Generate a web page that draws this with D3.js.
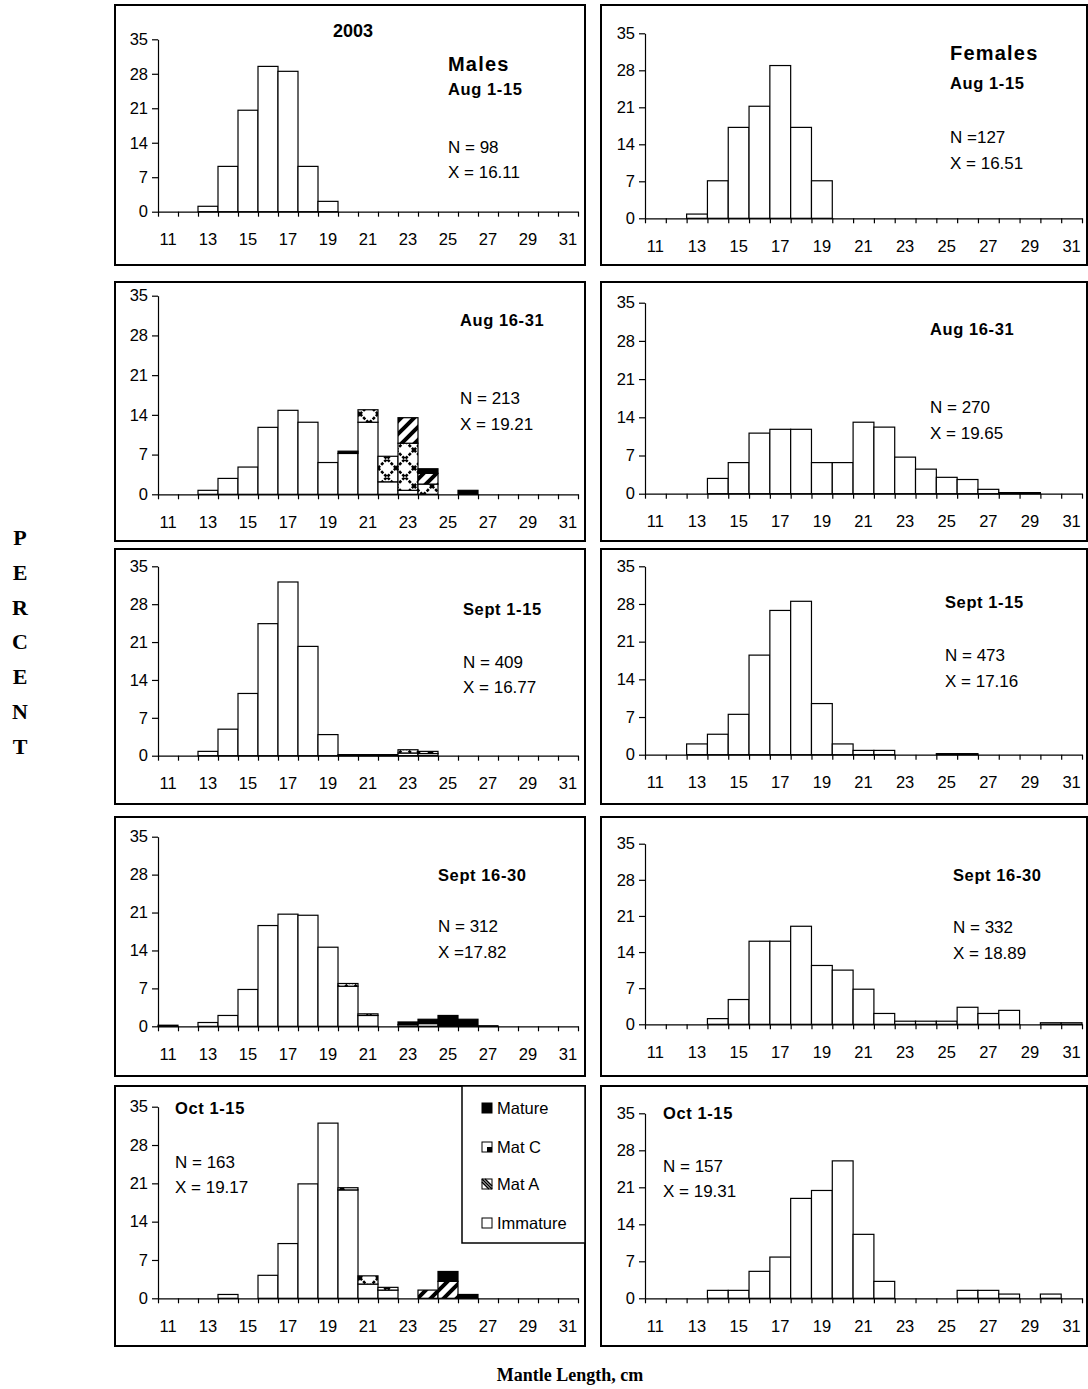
<!DOCTYPE html>
<html><head><meta charset="utf-8">
<script src="https://cdn.jsdelivr.net/npm/d3@7/dist/d3.min.js"></script>
<style>
body{margin:0;background:#fff}
text{font-family:Arial,"Liberation Sans",sans-serif;fill:#000}
</style>
</head><body>
<svg id="chart" width="1088" height="1389"></svg>
<script>
// ---------------- DATA ----------------
const lengths = [11,12,13,14,15,16,17,18,19,20,21,22,23,24,25,26,27,28,29,30,31];
const yTicks = [0,7,14,21,28,35];
const xTickLabels = [11,13,15,17,19,21,23,25,27,29,31];
const stageKeys = ["imm","matA","matC","mature"];
const stageNames = ["Immature","Mat A","Mat C","Mature"];

// Males (percent), stacked by maturity stage
const mAug1Imm    = [0,0,1.1,9.2,20.6,29.5,28.5,9.2,2.1,0,0,0,0,0,0,0,0,0,0,0,0];
const mAug1MatA   = [0,0,0,0,0,0,0,0,0,0,0,0,0,0,0,0,0,0,0,0,0];
const mAug1MatC   = [0,0,0,0,0,0,0,0,0,0,0,0,0,0,0,0,0,0,0,0,0];
const mAug1Mature = [0,0,0,0,0,0,0,0,0,0,0,0,0,0,0,0,0,0,0,0,0];

const mAug16Imm    = [0,0,0.7,2.8,4.8,11.8,14.8,12.7,5.6,7.2,12.7,2.2,0.7,0,0,0,0,0,0,0,0];
const mAug16MatA   = [0,0,0,0,0,0,0,0,0,0,2.2,4.5,8.3,1.8,0,0,0,0,0,0,0];
const mAug16MatC   = [0,0,0,0,0,0,0,0,0,0,0,0,4.5,1.9,0,0,0,0,0,0,0];
const mAug16Mature = [0,0,0,0,0,0,0,0,0,0.4,0,0,0,0.8,0,0.7,0,0,0,0,0];

const mSep1Imm    = [0,0,0.8,4.9,11.5,24.4,32.1,20.2,3.9,0.2,0.2,0.2,0.5,0.4,0,0,0,0,0,0,0];
const mSep1MatA   = [0,0,0,0,0,0,0,0,0,0,0,0,0.6,0,0,0,0,0,0,0,0];
const mSep1MatC   = [0,0,0,0,0,0,0,0,0,0,0,0,0,0.4,0,0,0,0,0,0,0];
const mSep1Mature = [0,0,0,0,0,0,0,0,0,0,0,0,0,0,0,0,0,0,0,0,0];

const mSep16Imm    = [0.2,0,0.7,2.0,6.8,18.6,20.7,20.5,14.6,7.4,2.0,0,0.3,0.5,0,0,0,0,0,0,0];
const mSep16MatA   = [0,0,0,0,0,0,0,0,0,0.5,0.3,0,0,0,0,0,0,0,0,0,0];
const mSep16MatC   = [0,0,0,0,0,0,0,0,0,0,0,0,0,0,0,0,0,0,0,0,0];
const mSep16Mature = [0,0,0,0,0,0,0,0,0,0,0,0,0.5,0.8,2.0,1.3,0.1,0,0,0,0];

const mOct1Imm    = [0,0,0,0.7,0,4.2,10.0,20.9,32.0,19.8,2.6,1.5,0,0,0,0,0,0,0,0,0];
const mOct1MatA   = [0,0,0,0,0,0,0,0,0,0.4,1.5,0.5,0,0,0,0,0,0,0,0,0];
const mOct1MatC   = [0,0,0,0,0,0,0,0,0,0,0,0,0,1.5,3.1,0,0,0,0,0,0];
const mOct1Mature = [0,0,0,0,0,0,0,0,0,0,0,0,0,0,1.8,0.7,0,0,0,0,0];

// Females (percent)
const fAug1  = [0,0,0.8,7.1,17.2,21.2,28.9,17.2,7.1,0,0,0,0,0,0,0,0,0,0,0,0];
const fAug16 = [0,0,0,2.8,5.7,11.1,11.8,11.8,5.7,5.7,13.1,12.2,6.7,4.5,3.0,2.6,0.8,0.2,0.2,0,0];
const fSep1  = [0,0,2.0,3.8,7.5,18.5,26.8,28.5,9.5,2.0,0.8,0.8,0,0,0.2,0.2,0,0,0,0,0];
const fSep16 = [0,0,0,1.1,4.8,16.1,16.1,19.0,11.4,10.5,6.8,2.1,0.6,0.6,0.6,3.3,2.1,2.7,0,0.3,0.3];
const fOct1  = [0,0,0,1.5,1.5,5.1,7.8,18.9,20.4,26.0,12.1,3.2,0,0,0,1.5,1.5,0.8,0,0.8,0];

const periods = ["Aug 1-15","Aug 16-31","Sept 1-15","Sept 16-30","Oct 1-15"];
const maleN = [98,213,409,312,163];
const maleX = ["16.11","19.21","16.77","17.82","19.17"];
const femaleN = [127,270,473,332,157];
const femaleX = ["16.51","19.65","17.16","18.89","19.31"];

const maleSeries = [
  [mAug1Imm,mAug1MatA,mAug1MatC,mAug1Mature],
  [mAug16Imm,mAug16MatA,mAug16MatC,mAug16Mature],
  [mSep1Imm,mSep1MatA,mSep1MatC,mSep1Mature],
  [mSep16Imm,mSep16MatA,mSep16MatC,mSep16Mature],
  [mOct1Imm,mOct1MatA,mOct1MatC,mOct1Mature]
];
const femaleSeries = [[fAug1],[fAug16],[fSep1],[fSep16],[fOct1]];

// ---------------- LAYOUT ----------------
const boxX = {M:[115,585], F:[601,1087]};
const plotX = {M:[158,578], F:[645,1082]};
const rowsY = [[5,265],[282,541],[549,804],[817,1076],[1086,1346]];
const axisY = {
  M:[[211.7,39.3],[494.3,295.7],[755.7,566.3],[1026.3,836.7],[1298.3,1106.7]],
  F:[[218.3,33.3],[493.7,302.7],[754.7,566.3],[1024.3,843.7],[1298.3,1113.3]]
};
// annotation anchors: [x, periodBaseline, NBaseline, XBaseline]
const annot = {
  M:[[448,95,153,178],[460,326,404,430],[463,615,668,693],[438,881,932,958],[175,1114,1168,1193]],
  F:[[950,89,143,169],[930,335,413,439],[945,608,661,687],[953,881,933,959],[663,1119,1172,1197]]
};
const nFmt = {M:["N = ","N = ","N = ","N = ","N = "], F:["N =","N = ","N = ","N = ","N = "]};
const xFmt = {M:["X = ","X = ","X = ","X =","X = "], F:["X = ","X = ","X = ","X = ","X = "]};

const FONT = "Arial, 'Liberation Sans', sans-serif";
const svg = d3.select("#chart");
const defs = svg.append("defs");
const pA = defs.append("pattern").attr("id","pMatA").attr("patternUnits","userSpaceOnUse")
  .attr("width",18).attr("height",18);
pA.append("rect").attr("width",18).attr("height",18).attr("fill","#fff");
pA.append("path").attr("d","M0,0L18,18M18,0L0,18").attr("stroke","#000")
  .attr("stroke-width",2.6).attr("stroke-dasharray","3,1.5");
const pC = defs.append("pattern").attr("id","pMatC").attr("patternUnits","userSpaceOnUse")
  .attr("width",13).attr("height",13);
pC.append("rect").attr("width",13).attr("height",13).attr("fill","#fff");
pC.append("path").attr("d","M-3,16L16,-3M-3,3L3,-3M10,16L16,10").attr("stroke","#000").attr("stroke-width",4);

const fills = {imm:"#fff", matA:"url(#pMatA)", matC:"url(#pMatC)", mature:"#000"};

function drawPanel(sex, r, series) {
  const g = svg.append("g");
  const bx = boxX[sex], by = rowsY[r];
  g.append("rect").attr("x",bx[0]).attr("y",by[0]).attr("width",bx[1]-bx[0]).attr("height",by[1]-by[0])
    .attr("fill","none").attr("stroke","#000").attr("stroke-width",2);

  const x = d3.scaleBand().domain(lengths).range(plotX[sex]).paddingInner(0).paddingOuter(0);
  const xb = d3.scaleLinear().domain([lengths[0]-0.5, lengths[lengths.length-1]+0.5]).range(plotX[sex]);
  const y = d3.scaleLinear().domain([0,35]).range(axisY[sex][r]);

  const keys = stageKeys.slice(0, series.length);
  const rows = lengths.map((L,i)=>{ const o={L}; keys.forEach((k,j)=>o[k]=series[j][i]); return o; });
  const stacked = d3.stack().keys(keys)(rows);

  stacked.forEach(s=>{
    g.append("g").selectAll("rect").data(s.filter(d=>d[1]-d[0]>0)).join("rect")
      .attr("x",d=>x(d.data.L)).attr("width",x.bandwidth())
      .attr("y",d=>y(d[1])).attr("height",d=>y(d[0])-y(d[1]))
      .attr("fill",fills[s.key]).attr("stroke","#000").attr("stroke-width",1.2);
  });

  // y axis
  const ya = g.append("g").attr("transform",`translate(${plotX[sex][0]},0)`)
    .call(d3.axisLeft(y).tickValues(yTicks).tickSize(6).tickSizeOuter(0).tickPadding(4));
  ya.attr("font-size",null).attr("font-family",null);
  ya.selectAll("text").style("font-size","16.5px").style("font-family",FONT);
  // x axis tick marks at bin boundaries
  const boundaries = lengths.map(d=>d-0.5).concat([lengths[lengths.length-1]+0.5]);
  g.append("g").attr("transform",`translate(0,${axisY[sex][r][0]})`)
    .call(d3.axisBottom(xb).tickValues(boundaries).tickSize(5).tickSizeOuter(0).tickFormat(""));
  const xl = g.append("g").attr("transform",`translate(0,${axisY[sex][r][0]})`)
    .call(d3.axisBottom(x).tickValues(xTickLabels).tickSize(0).tickPadding(22));
  xl.attr("font-size",null).attr("font-family",null);
  xl.select(".domain").remove();
  xl.selectAll("text").style("font-size","16.5px").style("font-family",FONT);
  g.selectAll(".domain").attr("stroke","#000").attr("stroke-width",1.2);
  g.selectAll(".tick line").attr("stroke","#000").attr("stroke-width",1.2);

  // annotations
  const a = annot[sex][r];
  const Ns = sex==="M"?maleN:femaleN, Xs = sex==="M"?maleX:femaleX;
  g.append("text").attr("x",a[0]).attr("y",a[1]).attr("font-weight","bold").attr("font-size",16.5)
    .attr("letter-spacing",0.6).text(periods[r]);
  g.append("text").attr("x",a[0]).attr("y",a[2]).attr("font-size",17).text(nFmt[sex][r]+Ns[r]);
  g.append("text").attr("x",a[0]).attr("y",a[3]).attr("font-size",17).text(xFmt[sex][r]+Xs[r]);
}

for (let r=0;r<5;r++){ drawPanel("M", r, maleSeries[r]); drawPanel("F", r, femaleSeries[r]); }

// headers
svg.append("text").attr("x",353).attr("y",37).attr("text-anchor","middle").attr("font-weight","bold")
  .attr("font-size",18).text("2003");
svg.append("text").attr("x",448).attr("y",71).attr("font-weight","bold").attr("font-size",20)
  .attr("letter-spacing",1.2).text("Males");
svg.append("text").attr("x",950).attr("y",60).attr("font-weight","bold").attr("font-size",20)
  .attr("letter-spacing",1.2).text("Females");

// legend (in Males Oct 1-15 panel)
const lg = svg.append("g");
lg.append("rect").attr("x",462).attr("y",1086).attr("width",123).attr("height",157)
  .attr("fill","#fff").attr("stroke","#000").attr("stroke-width",1.5);
const legendOrder = [3,2,1,0];
const legendY = [1108,1147,1184,1223];
legendOrder.forEach((si,i)=>{
  const k = stageKeys[si];
  const cy = legendY[i];
  const sg = lg.append("g").attr("transform",`translate(482,${cy-5})`);
  if (k==="mature") sg.append("rect").attr("width",10).attr("height",10).attr("fill","#000").attr("stroke","#000");
  else if (k==="matC") { sg.append("rect").attr("width",10).attr("height",10).attr("fill","#fff").attr("stroke","#000");
    sg.append("rect").attr("x",5).attr("y",5).attr("width",5).attr("height",5).attr("fill","#000"); }
  else if (k==="matA") { sg.append("rect").attr("width",10).attr("height",10).attr("fill","#fff").attr("stroke","#000");
    sg.append("path").attr("d","M0,0L10,10M3,0L10,7M0,3L7,10").attr("stroke","#000").attr("stroke-width",1.5); }
  else sg.append("rect").attr("width",10).attr("height",10).attr("fill","#fff").attr("stroke","#000");
  lg.append("text").attr("x",497).attr("y",cy+6).attr("font-size",16.5).text(stageNames[si]);
});

// y title "PERCENT" stacked
const letters = "PERCENT".split("");
svg.append("g").selectAll("text").data(letters).join("text")
  .attr("x",20).attr("y",(d,i)=>545+i*34.8).attr("text-anchor","middle")
  .attr("font-weight","bold").attr("font-size",22)
  .style("font-family","'Liberation Serif','Times New Roman',serif").text(d=>d);
// x title
svg.append("text").attr("x",570).attr("y",1381).attr("text-anchor","middle")
  .style("font-family","'Liberation Serif','Times New Roman',serif").attr("font-weight","bold")
  .attr("font-size",18).text("Mantle Length, cm");
</script>
</body></html>
